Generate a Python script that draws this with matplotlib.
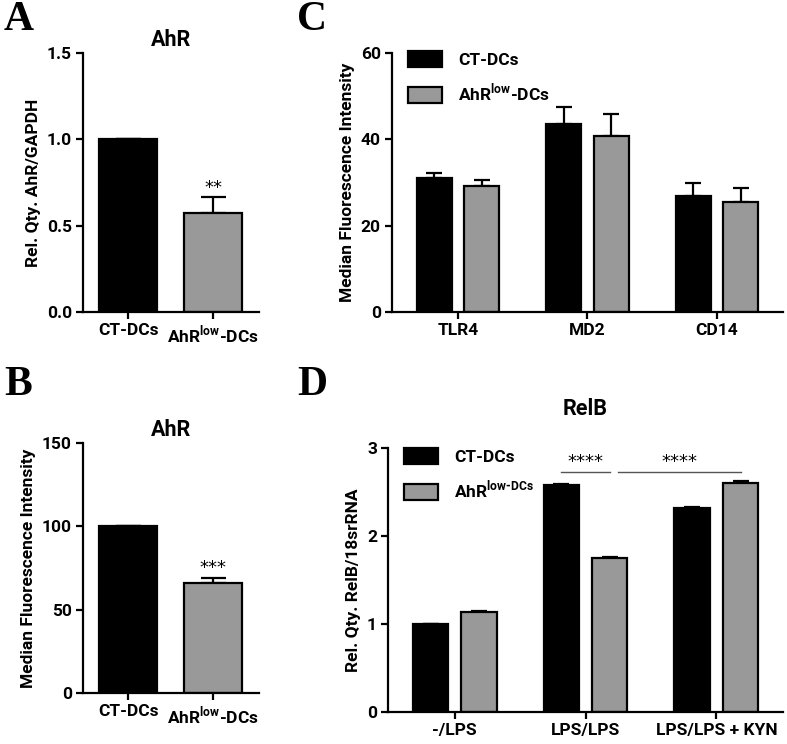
import numpy as np
import matplotlib
matplotlib.use("Agg")
import matplotlib.pyplot as plt
from matplotlib.patches import Patch

plt.rcParams["font.family"] = ["Roboto", "DejaVu Sans"]
plt.rcParams["font.weight"] = "bold"
plt.rcParams["mathtext.fontset"] = "custom"
plt.rcParams["mathtext.rm"] = "Roboto"
plt.rcParams["axes.linewidth"] = 1.6

BLACK = "#000000"
GREY = "#999999"

# Panel A: AhR qPCR
a_groups = ["CT-DCs", "AhR$^{\\mathregular{low}}$-DCs"]
a_vals = [1.0, 0.575]
a_err = [0.0, 0.09]

# Panel B: AhR MFI
b_groups = ["CT-DCs", "AhR$^{\\mathregular{low}}$-DCs"]
b_vals = [100, 66]
b_err = [0, 3]

# Panel C: TLR4 / MD2 / CD14 MFI
c_cats = ["TLR4", "MD2", "CD14"]
c_ct = [31.0, 43.6, 26.9]
c_ct_err = [1.2, 4.0, 3.1]
c_low = [29.3, 40.7, 25.5]
c_low_err = [1.2, 5.2, 3.2]

# Panel D: RelB qPCR
d_cats = ["-/LPS", "LPS/LPS", "LPS/LPS + KYN"]
d_ct = [1.0, 2.58, 2.32]
d_ct_err = [0.005, 0.005, 0.01]
d_low = [1.14, 1.75, 2.60]
d_low_err = [0.01, 0.01, 0.02]

TICK_FS = 12.5
LAB_FS = 12.5
TITLE_FS = 15.5

fig = plt.figure(figsize=(7.87, 7.44), dpi=100)


def style(ax):
    for s in ["top", "right"]:
        ax.spines[s].set_visible(False)
    ax.tick_params(width=1.6, length=5, labelsize=TICK_FS, pad=3)


def stars(ax, x, y, s):
    ax.text(x, y, s, ha="center", va="bottom", fontsize=13, fontweight="normal",
            family="DejaVu Sans")


def two_bar(ax, groups, vals, err, ylim, yticks, fmt, ylabel, title, star, star_y):
    x = np.arange(len(groups))
    ax.bar(x, vals, width=0.68, color=[BLACK, GREY], edgecolor=BLACK, linewidth=1.6, zorder=2)
    ax.errorbar(x, vals, yerr=[np.zeros(len(err)), err], fmt="none", ecolor=BLACK,
                elinewidth=1.6, capsize=9, capthick=1.6, zorder=1)
    ax.set_xlim(-0.53, 1.54)
    ax.set_ylim(*ylim)
    ax.set_yticks(yticks)
    ax.set_yticklabels([fmt.format(t) for t in yticks])
    ax.set_xticks(x)
    ax.set_xticklabels(groups, fontsize=TICK_FS)
    ax.set_ylabel(ylabel, fontsize=LAB_FS, fontweight="bold")
    ax.set_title(title, fontsize=TITLE_FS, fontweight="bold", pad=5)
    stars(ax, 1, star_y, star)
    style(ax)


axA = fig.add_axes([0.1055, 0.5806, 0.2236, 0.348])
two_bar(axA, a_groups, a_vals, a_err, (0, 1.5), [0.0, 0.5, 1.0, 1.5], "{:.1f}",
        "Rel. Qty. AhR/GAPDH", "AhR", "**", 0.668)

axB = fig.add_axes([0.1055, 0.0685, 0.2236, 0.336])
two_bar(axB, b_groups, b_vals, b_err, (0, 150), [0, 50, 100, 150], "{:d}",
        "Median Fluorescence Intensity", "AhR", "***", 69.5)


def grouped(ax, cats, ct, ct_err, low, low_err):
    x = np.arange(len(cats))
    off = 0.185
    w = 0.27
    ax.bar(x - off, ct, width=w, color=BLACK, edgecolor=BLACK, linewidth=1.6, zorder=2)
    ax.bar(x + off, low, width=w, color=GREY, edgecolor=BLACK, linewidth=1.6, zorder=2)
    ax.errorbar(x - off, ct, yerr=[np.zeros(len(ct)), ct_err], fmt="none", ecolor=BLACK,
                elinewidth=1.6, capsize=6, capthick=1.6, zorder=1)
    ax.errorbar(x + off, low, yerr=[np.zeros(len(low)), low_err], fmt="none", ecolor=BLACK,
                elinewidth=1.6, capsize=6, capthick=1.6, zorder=1)
    ax.set_xlim(-0.51, 2.51)
    ax.set_xticks(x)
    ax.set_xticklabels(cats, fontsize=TICK_FS)
    style(ax)
    return x, off


axC = fig.add_axes([0.498, 0.5806, 0.497, 0.348])
grouped(axC, c_cats, c_ct, c_ct_err, c_low, c_low_err)
axC.set_ylim(0, 60)
axC.set_yticks([0, 20, 40, 60])
axC.set_ylabel("Median Fluorescence Intensity", fontsize=LAB_FS, fontweight="bold")
axC.legend(handles=[Patch(facecolor=BLACK, edgecolor=BLACK, linewidth=1.6, label="CT-DCs"),
                    Patch(facecolor=GREY, edgecolor=BLACK, linewidth=1.6,
                          label="AhR$^{\\mathregular{low}}$-DCs")],
           loc="upper left", bbox_to_anchor=(0.0, 1.07), frameon=False, fontsize=TICK_FS,
           handlelength=2.0, handleheight=1.1, labelspacing=0.8, handletextpad=0.9)

axD = fig.add_axes([0.493, 0.043, 0.502, 0.355])
x, off = grouped(axD, d_cats, d_ct, d_ct_err, d_low, d_low_err)
axD.set_ylim(0, 3)
axD.set_yticks([0, 1, 2, 3])
axD.set_ylabel("Rel. Qty. RelB/18srRNA", fontsize=LAB_FS, fontweight="bold")
axD.set_title("RelB", fontsize=TITLE_FS, fontweight="bold", pad=24)
axD.legend(handles=[Patch(facecolor=BLACK, edgecolor=BLACK, linewidth=1.6, label="CT-DCs"),
                    Patch(facecolor=GREY, edgecolor=BLACK, linewidth=1.6,
                          label="AhR$^{\\mathregular{low\u2010DCs}}$")],
           loc="upper left", bbox_to_anchor=(0.0, 1.06), frameon=False, fontsize=TICK_FS,
           handlelength=2.0, handleheight=1.1, labelspacing=0.8, handletextpad=0.9)
# significance brackets
sig = [(x[1] - off, x[1] + off), (x[1] + 0.245, x[2] + off)]
for x0, x1 in sig:
    axD.plot([x0, x1], [2.73, 2.73], color="#555555", lw=1.0, clip_on=False)
    stars(axD, (x0 + x1) / 2, 2.74, "****")

for lab, (px, py) in zip("ABCD", [(0.005, 0.998), (0.005, 0.508), (0.378, 0.998), (0.378, 0.508)]):
    fig.text(px, py, lab, fontsize=30, fontweight="bold", family="Liberation Serif",
             ha="left", va="top")

fig.savefig("out.png", dpi=100)
